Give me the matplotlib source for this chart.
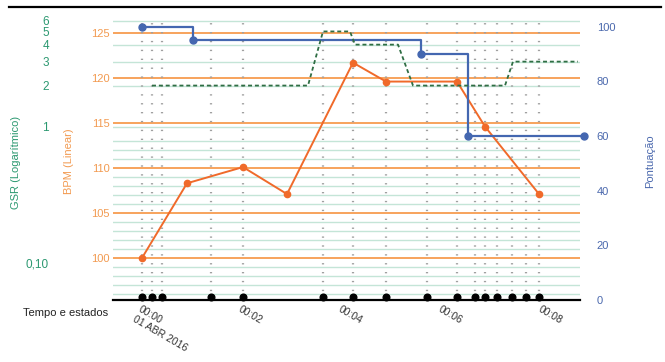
import matplotlib
matplotlib.use("Agg")
import matplotlib.pyplot as plt
import matplotlib.transforms as mtransforms
from matplotlib.lines import Line2D

plt.rcParams['font.family'] = ['Liberation Sans', 'DejaVu Sans']

# --- data (time in minutes) ---
event_times = [0, 0.2, 0.4, 1.38, 2.02, 3.62, 4.22, 4.88, 5.7, 6.3, 6.66, 6.86, 7.1, 7.4, 7.68, 7.94]

bpm_times = [0, 0.9, 2.02, 2.9, 4.22, 4.88, 6.3, 6.86, 7.94]
bpm_values = [100, 108.3, 110.1, 107.1, 121.7, 119.6, 119.6, 114.6, 107.1]

score_times = [0, 1.02, 5.58, 6.52, 8.84]
score_values = [100, 95, 90, 60, 60]

gsr_times = [0.2, 3.32, 3.62, 4.16, 4.26, 5.12, 5.42, 7.26, 7.42, 8.72]
gsr_values = [2, 2, 5, 5, 4, 4, 2, 2, 3, 3]

time_ticks = [0, 2, 4, 6, 8]
time_labels = ['00:00\n01 ABR 2016', '00:02', '00:04', '00:06', '00:08']

bpm_major = [100, 105, 110, 115, 120, 125]
bpm_minor = [96, 97, 98, 99, 101, 102, 103, 104, 106, 107, 108, 109, 111, 112, 113]
gsr_ticks = [0.1, 1, 2, 3, 4, 5, 6]
gsr_labels = ['0,10', '1', '2', '3', '4', '5', '6']
gsr_grid = [1, 2, 3, 4, 6]
score_ticks = [0, 20, 40, 60, 80, 100]

# colours
c_orange_grid = '#f7a35c'
c_green_grid = '#c4e5d7'
c_bpm = '#f06a2a'
c_blue = '#4467b0'
c_gsr = '#2f6e44'
c_gsr_lbl = '#2b9870'
c_bpm_lbl = '#f29a50'
c_score_lbl = '#4a68ad'

W, H = 665, 362
fig = plt.figure(figsize=(W / 100, H / 100), dpi=100)
ax = fig.add_axes([113 / W, 62 / H, 467 / W, 280 / H])
ax_s = ax.twinx()
ax_g = ax.twinx()

ax.set_xlim(-0.58, 8.76)
ax.set_ylim(95.33, 126.44)
ax_s.set_ylim(0, 102.45)
ax_g.set_yscale('log')
ax_g.set_ylim(0.053, 6.07)

# grid lines
for v in bpm_minor:
    ax.axhline(v, color=c_green_grid, lw=1.0, zorder=0.5)
gsr_tr = mtransforms.blended_transform_factory(ax.transAxes, ax_g.transData)
for v in gsr_grid:
    ax.plot([0, 1], [v, v], transform=gsr_tr, color=c_green_grid, lw=1.0, zorder=0.5)
for v in bpm_major:
    ax.axhline(v, color=c_orange_grid, lw=1.4, zorder=0.8)
for t in event_times:
    ax.axvline(t, color='#a0a0a0', lw=1.6, ls=(0, (0.6, 3.4)), zorder=1)

# data
ax.plot(bpm_times, bpm_values, color=c_bpm, lw=1.4, marker='o', ms=4.5, zorder=5)
ax_s.plot(score_times, score_values, color=c_blue, lw=1.6, drawstyle='steps-post',
          zorder=5, clip_on=False)
ax_s.plot(score_times, score_values, color=c_blue, lw=0, marker='o', ms=5, zorder=6,
          clip_on=False)
ax_g.plot(gsr_times, gsr_values, color=c_gsr, lw=1.3, ls=(0, (2.2, 1.6)), zorder=5)

# event markers on the baseline
up = ax_s.transData + mtransforms.ScaledTranslation(0, 2 / 72, fig.dpi_scale_trans)
ax_s.plot(event_times, [0] * len(event_times), 'o', color='black', ms=4.8,
          transform=up, clip_on=False, zorder=7)

# axes styling
for a in (ax, ax_s, ax_g):
    for s in a.spines.values():
        s.set_visible(False)
ax.spines['bottom'].set_visible(True)
ax.spines['bottom'].set_color('black')
ax.spines['bottom'].set_linewidth(1.6)

ax.set_yticks(bpm_major)
ax.tick_params(axis='y', length=0, pad=2.2, labelsize=8, labelcolor=c_bpm_lbl)
ax.set_xticks(time_ticks)
ax.set_xticklabels(time_labels, rotation=-30, ha='left', va='top', rotation_mode='anchor')
ax.tick_params(axis='x', length=0, pad=3, labelsize=7.5, labelcolor='#333333')

ax_s.set_yticks(score_ticks)
ax_s.tick_params(axis='y', length=0, pad=12, labelsize=8, labelcolor=c_score_lbl)

ax_g.yaxis.tick_left()
ax_g.set_yticks(gsr_ticks)
ax_g.set_yticklabels(gsr_labels)
ax_g.yaxis.set_minor_locator(matplotlib.ticker.NullLocator())
ax_g.tick_params(axis='y', which='both', length=0, pad=46, labelsize=8.5,
                 labelcolor=c_gsr_lbl)

# axis titles
fig.text(16 / W, 1 - 162 / H, 'GSR (Logarítmico)', rotation=90, ha='center', va='center',
         color=c_gsr_lbl, fontsize=8)
fig.text(69 / W, 1 - 161 / H, 'BPM (Linear)', rotation=90, ha='center', va='center',
         color=c_bpm_lbl, fontsize=8)
fig.text(650 / W, 1 - 161 / H, 'Pontuação', rotation=90, ha='center', va='center',
         color=c_score_lbl, fontsize=8)
fig.text(23 / W, 1 - 313 / H, 'Tempo e estados', ha='left', va='center',
         color='#222222', fontsize=8)

# top rule
fig.add_artist(Line2D([9 / W, 661 / W], [1 - 7 / H, 1 - 7 / H], color='black', lw=1.6))

fig.savefig('out.png', dpi=100)
